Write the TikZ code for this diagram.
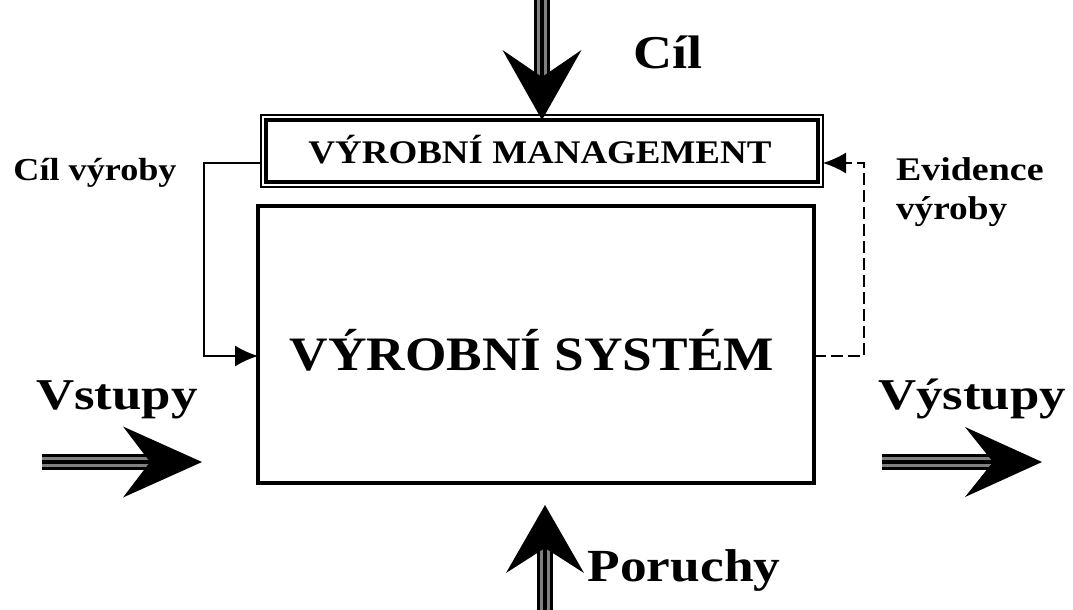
\documentclass[tikz,border=0pt]{standalone}
\usepackage{fontspec}
\usepackage{graphicx}
\setmainfont{Liberation Serif}
\usetikzlibrary{arrows.meta,calc}

% bold serif text of a given size, widened horizontally
\newcommand\stretchtxt[3]{\scalebox{#2}[1]{\fontsize{#1}{#1}\selectfont\bfseries #3}}

% heavy arrow: striped shaft and notched head
% #1 start, #2 tip, #3 head length, #4 half head width, #5 notch depth
\newcommand\heavyarrow[5]{%
  \coordinate (#2-back) at ($(#2)!#3pt!(#1)$);
  \coordinate (#2-shaftend) at ($(#2)!#3pt-#5pt-2pt!(#1)$);
  \draw[line width=16pt, black] (#1) -- (#2-shaftend);
  \draw[line width=10pt, black!50] (#1) -- (#2-shaftend);
  \draw[line width=4pt, black] (#1) -- (#2-shaftend);
  \fill[black] (#2) -- ($(#2-back)!#4pt!90:(#2)$)
     -- ($(#2)!#3pt-#5pt!(#1)$)
     -- ($(#2-back)!#4pt!-90:(#2)$) -- cycle;
}

\tikzset{
  lbl/.style={inner sep=0pt, outer sep=0pt, anchor=base},
  fb/.style={line width=1.6pt, -{Latex[length=23pt,width=21pt]}},
  fbdash/.style={fb, dash pattern=on 12pt off 5pt},
}

\begin{document}
\begin{tikzpicture}[x=1pt,y=-1pt]
  \useasboundingbox (0,0) rectangle (1073,610);
  \fill[white] (0,0) rectangle (1073,610);

  % management box with double frame
  \node[minimum width=562pt, minimum height=72pt, inner sep=0pt, outer sep=0pt] (mgmt) at (542,151) {};
  \draw[line width=2pt] (mgmt.north west) rectangle (mgmt.south east);
  \draw[line width=3.5pt] ([shift={(5,5)}]mgmt.north west) rectangle ([shift={(-5,-5)}]mgmt.south east);
  \node[lbl] (mgmttxt) at (540,163) {\stretchtxt{33}{1.12}{VÝROBNÍ MANAGEMENT}};

  % production system
  \node[draw, line width=4.5pt, minimum width=556pt, minimum height=277pt, inner sep=0pt, outer sep=0pt] (sys) at (536,344.5) {};
  \node[lbl] (systxt) at (532,370) {\stretchtxt{48}{1.11}{VÝROBNÍ SYSTÉM}};

  % labels
  \node[lbl] (goal) at (668,68) {\stretchtxt{47}{1.15}{Cíl}};
  \node[lbl] (goalprod) at (95,180) {\stretchtxt{32}{1.13}{Cíl výroby}};
  \node[lbl, anchor=base west] (evid1) at (896,180) {\stretchtxt{33}{1.15}{Evidence}};
  \node[lbl, anchor=base west] (evid2) at (896,219) {\stretchtxt{33}{1.13}{výroby}};
  \node[lbl] (inp) at (117,409) {\stretchtxt{44}{1.2}{Vstupy}};
  \node[lbl] (outp) at (972,409) {\stretchtxt{44}{1.2}{Výstupy}};
  \node[lbl] (dist) at (684,581) {\stretchtxt{46}{1.16}{Poruchy}};

  % control loop: goal from management to system
  \coordinate (lb) at (204,356);
  \draw[fb] ([yshift=-12pt]mgmt.west) -| (lb) -- (sys.west |- lb);

  % feedback: records from system back to management
  \coordinate (rb) at (864,356);
  \coordinate (rt) at (864,163);
  \draw[fbdash] (sys.east |- rb) -- (rb) -- (rt) -- (mgmt.east |- rt);

  % heavy arrows
  \coordinate (goalS) at (542,0);
  \coordinate (goalT) at (542,120);
  \heavyarrow{goalS}{goalT}{70}{39.5}{27}

  \coordinate (distS) at (545,610);
  \coordinate (distT) at (545,505);
  \heavyarrow{distS}{distT}{68}{39}{25}

  \coordinate (inS) at (42,462);
  \coordinate (inT) at (202,462);
  \heavyarrow{inS}{inT}{79}{35.5}{27}

  \coordinate (outS) at (882,462);
  \coordinate (outT) at (1042,462);
  \heavyarrow{outS}{outT}{77}{35}{28}
\end{tikzpicture}
\end{document}
